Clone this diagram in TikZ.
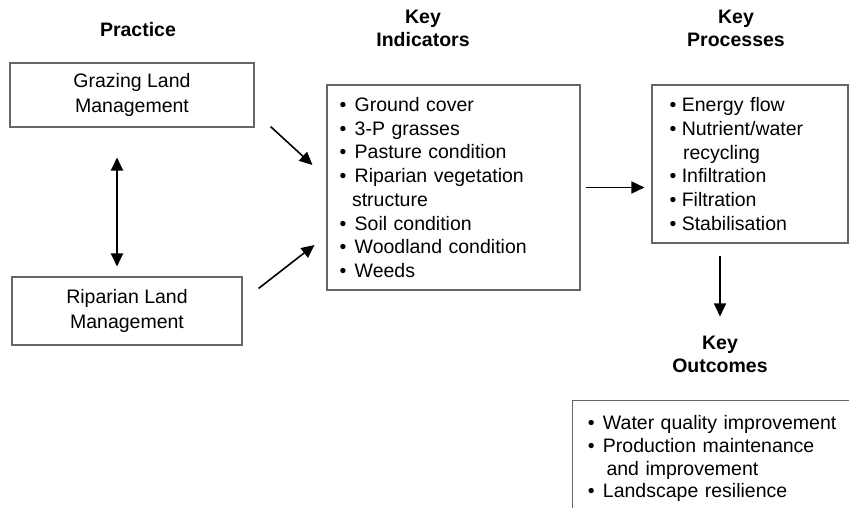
\documentclass[tikz,border=0pt]{standalone}
\usepackage{fontspec}
\setmainfont{Liberation Sans}
\usetikzlibrary{arrows.meta, positioning}

\newcommand{\bul}[1][8.3pt]{\textbullet\hspace{#1}}

\tikzset{
  every node/.style={font=\fontsize{19.5}{23.7}\selectfont},
  head/.style={font=\fontsize{19.5}{23}\selectfont\bfseries, align=center, inner sep=0pt},
  box/.style={draw=black!60, line width=1.1pt, inner ysep=0pt},
  landbox/.style={box, align=center, font=\fontsize{19.5}{25}\selectfont},
  listbox/.style={box, align=left},
  arr/.style={-{Triangle[length=13pt, width=12pt]}, line width=1.6pt},
  twoway/.style={arr, {Triangle[length=13pt, width=12pt]}-{Triangle[length=13pt, width=12pt]}, line width=2pt}
}

\begin{document}
\begin{tikzpicture}[x=1pt, y=-1pt]
  \useasboundingbox (0,0) rectangle (849,508);
  \clip (0,0) rectangle (849,508);

  % column headings
  \node[head] (practice) at (138,30) {Practice};
  \node[head] (indh) at (423,28.5) {Key\\Indicators};
  \node[head] (proch) at (736,28.5) {Key\\Processes};
  \node[head] (outh) at (720,354) {Key\\Outcomes};

  % practices
  \node[landbox, minimum width=244pt, minimum height=64pt] (graze) at (132,95) {Grazing Land\\Management};
  \node[landbox, minimum width=230pt, minimum height=68pt] (ripar) at (127,311) {Riparian Land\\Management};

  % indicators and processes
  \node[listbox, inner xsep=12.6pt, text width=227.8pt, minimum height=205pt] (ind) at (453.5,187.5)
    {\bul Ground cover\\
     \bul 3-P grasses\\
     \bul Pasture condition\\
     \bul Riparian vegetation\\
     \hspace*{12.4pt}structure\\
     \bul Soil condition\\
     \bul Woodland condition\\
     \bul Weeds};
  \node[listbox, inner xsep=17.6pt, text width=160.8pt, minimum height=158pt] (proc) at (750,164)
    {\bul[5.4pt]Energy flow\\
     \bul[5.4pt]Nutrient/water\\
     \hspace*{13.4pt}recycling\\
     \bul[5.4pt]Infiltration\\
     \bul[5.4pt]Filtration\\
     \bul[5.4pt]Stabilisation};

  % outcomes (runs off the page)
  \node[listbox, anchor=north west, inner xsep=15.3pt, inner ysep=15pt, text width=300pt,
        font=\fontsize{19.5}{22.7}\selectfont] (out) at (572,400)
    {\bul Water quality improvement\\
     \bul Production maintenance\\
     \hspace*{18.7pt}and improvement\\
     \bul Landscape resilience};

  % links
  \draw[twoway, shorten <=30pt, shorten >=10pt] ([xshift=-15pt]graze.south) -- ([xshift=-10pt]ripar.north);
  \draw[arr] ([shift={(16,-1)}]graze.south east) -- ([shift={(-14,-22.5)}]ind.west);
  \draw[arr] ([shift={(16,12)}]ripar.north east) -- ([shift={(-12,57.5)}]ind.west);
  \draw[arr] ([xshift=5pt]ind.east) -- ([xshift=-7pt]ind.east -| proc.west);
  \draw[arr, shorten >=19pt] ([shift={(-30,12)}]proc.south) -- (outh.north);
\end{tikzpicture}
\end{document}
